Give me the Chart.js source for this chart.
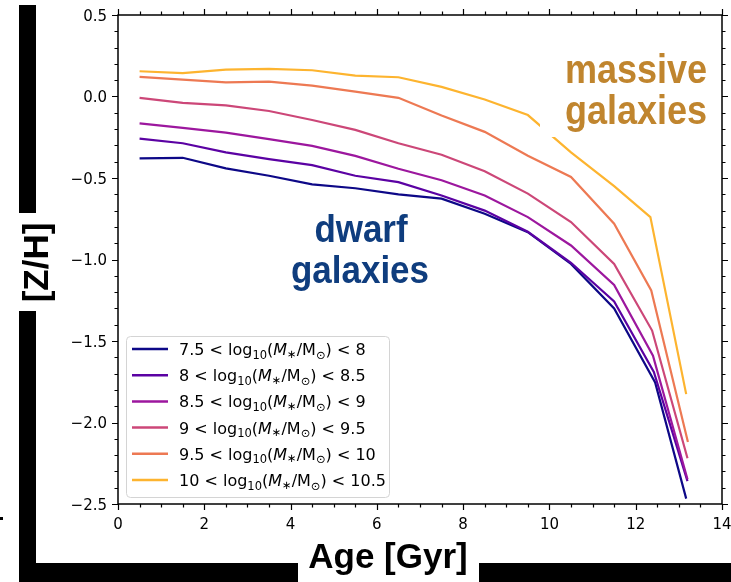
<!DOCTYPE html>
<html>
<head>
<meta charset="utf-8">
<script src="https://cdn.jsdelivr.net/npm/chart.js@4/dist/chart.umd.min.js"></script>
<style>
  body { margin: 0; background: #fff; }
  canvas { display: block; }
</style>
</head>
<body>
<canvas id="zhChart" width="731" height="582"></canvas>
<script>
/* ================= DATA ================= */
// age bins (Gyr) shared by every mass bin, the two oldest bins differ a little per series
const ages = [0.5, 1.5, 2.5, 3.5, 4.5, 5.5, 6.5, 7.5, 8.5, 9.5, 10.5, 11.5];
const oldAges = [
    [12.45, 13.17],
    [12.42, 13.20],
    [12.40, 13.20],
    [12.38, 13.20],
    [12.36, 13.21],
    [12.34, 13.17]
];

// [Z/H] per mass bin, youngest -> oldest
const zh75 = [-0.380, -0.376, -0.441, -0.486, -0.539, -0.563, -0.600, -0.627, -0.719, -0.832, -1.027, -1.300, -1.754, -2.467];
const zh80 = [-0.258, -0.287, -0.343, -0.384, -0.421, -0.486, -0.525, -0.607, -0.700, -0.830, -1.020, -1.258, -1.690, -2.360];
const zh85 = [-0.165, -0.193, -0.222, -0.262, -0.303, -0.364, -0.443, -0.514, -0.607, -0.740, -0.914, -1.156, -1.590, -2.348];
const zh90 = [-0.008, -0.039, -0.055, -0.089, -0.144, -0.205, -0.287, -0.357, -0.459, -0.596, -0.770, -1.027, -1.436, -2.219];
const zh95 = [0.120, 0.104, 0.087, 0.091, 0.067, 0.030, -0.008, -0.116, -0.217, -0.364, -0.494, -0.780, -1.190, -2.120];
const zh100 = [0.155, 0.144, 0.165, 0.169, 0.161, 0.128, 0.118, 0.059, -0.018, -0.114, -0.343, -0.550, -0.740, -1.826];

const binLo = ["7.5", "8", "8.5", "9", "9.5", "10"];
const binHi = ["8", "8.5", "9", "9.5", "10", "10.5"];
const colors = ["#0d0887", "#5b02a3", "#9c179e", "#cc4778", "#ed7953", "#fdb42f"];

const xTicks = [0, 2, 4, 6, 8, 10, 12, 14];
const yTicks = [0.5, 0.0, -0.5, -1.0, -1.5, -2.0, -2.5];
const xMinorStep = 0.5;
const yMinorStep = 0.1;

const allZh = [zh75, zh80, zh85, zh90, zh95, zh100];

/* ================= DATASETS ================= */
const datasets = allZh.map((zh, i) => {
    const xs = ages.concat(oldAges[i]);
    return {
        label: binLo[i] + " < log10(M*/Msun) < " + binHi[i],
        data: zh.map((v, j) => ({ x: xs[j], y: v })),
        borderColor: colors[i],
        borderWidth: 2.2,
        pointRadius: 0,
        tension: 0,
        fill: false,
        order: allZh.length - i   // heaviest bin drawn last
    };
});

const TICK_FONT = "15px 'DejaVu Sans'";
const LEG_FONT = "16px 'DejaVu Sans'";
const SUB_FONT = "11.5px 'DejaVu Sans'";

function minus(v) {
    return v.toFixed(1).replace("-", "\u2212");
}

/* legend label with log subscript + sun symbol */
function drawLegendLabel(ctx, x, y, lo, hi) {
    const parts = [
        [lo + " < log", LEG_FONT, 0],
        ["10", SUB_FONT, 3.5],
        ["(", LEG_FONT, 0],
        ["M", "oblique 16px 'DejaVu Sans'", 0],
        ["\u2217", SUB_FONT, 2.5],
        ["/M", LEG_FONT, 0],
        ["\u2299", SUB_FONT, 3.5],
        [") < " + hi, LEG_FONT, 0]
    ];
    parts.forEach(p => {
        ctx.font = p[1];
        ctx.fillText(p[0], x, y + p[2]);
        x += ctx.measureText(p[0]).width;
    });
}

// stretched bold caption
function caption(ctx, text, cx, y, size, sx, color) {
    ctx.save();
    ctx.font = "bold " + size + "px 'Liberation Sans'";
    ctx.fillStyle = color;
    ctx.textAlign = "center";
    ctx.translate(cx, y);
    ctx.scale(sx, 1);
    ctx.fillText(text, 0, 0);
    ctx.restore();
}

const framePlugin = {
    id: "frame",
    afterDatasetsDraw(chart) {
        const ctx = chart.ctx;
        const xs = chart.scales.x, ys = chart.scales.y;
        const a = chart.chartArea;

        ctx.save();

        // white text box behind the massive-galaxies caption
        ctx.fillStyle = "#fff";
        ctx.fillRect(540, 48, 172, 89);

        caption(ctx, "massive", 636, 83, 40, 0.9, "#c0852e");
        caption(ctx, "galaxies", 636, 124, 40, 0.9, "#c0852e");
        caption(ctx, "dwarf", 361, 242, 38, 0.92, "#0f3d7e");
        caption(ctx, "galaxies", 360, 283, 38, 0.92, "#0f3d7e");

        // spines
        ctx.strokeStyle = "#000";
        ctx.lineWidth = 1.5;
        ctx.strokeRect(a.left, a.top, a.right - a.left, a.bottom - a.top);

        // ticks on all four sides, pointing out
        ctx.lineWidth = 1.2;
        ctx.beginPath();
        for (let k = 0; k <= 28; k++) {
            const px = Math.round(xs.getPixelForValue(k * xMinorStep)) + 0.5;
            const len = k % 4 === 0 ? 6 : 3.5;
            ctx.moveTo(px, a.bottom); ctx.lineTo(px, a.bottom + len);
            ctx.moveTo(px, a.top); ctx.lineTo(px, a.top - len);
        }
        for (let k = 0; k <= 30; k++) {
            const py = Math.round(ys.getPixelForValue(-2.5 + k * yMinorStep)) + 0.5;
            const len = k % 5 === 0 ? 6 : 3.5;
            ctx.moveTo(a.left, py); ctx.lineTo(a.left - len, py);
            ctx.moveTo(a.right, py); ctx.lineTo(a.right + len, py);
        }
        ctx.stroke();

        // tick labels
        ctx.fillStyle = "#000";
        ctx.font = TICK_FONT;
        ctx.textAlign = "center";
        xTicks.forEach(v => ctx.fillText(String(v), xs.getPixelForValue(v), 529));
        ctx.textAlign = "right";
        yTicks.forEach(v => ctx.fillText(minus(v), 107, ys.getPixelForValue(v) + 5.5));

        // legend
        ctx.beginPath();
        ctx.roundRect(126.5, 336.5, 263, 161, 4);
        ctx.fillStyle = "#fff";
        ctx.fill();
        ctx.strokeStyle = "#d4d4d4";
        ctx.lineWidth = 1;
        ctx.stroke();
        ctx.textAlign = "left";
        binLo.forEach((lo, i) => {
            const ry = 349 + i * 26.2;
            ctx.strokeStyle = colors[i];
            ctx.lineWidth = 2.5;
            ctx.beginPath();
            ctx.moveTo(132, ry); ctx.lineTo(168, ry);
            ctx.stroke();
            ctx.fillStyle = "#000";
            drawLegendLabel(ctx, 179, ry + 6, lo, binHi[i]);
        });

        // heavy frame bars around the axis titles
        ctx.fillStyle = "#000";
        ctx.fillRect(19, 5, 17, 208);
        ctx.fillRect(19, 311, 17, 271);
        ctx.fillRect(19, 563, 279, 19);
        ctx.fillRect(479, 563, 252, 19);
        ctx.fillRect(0, 517, 3, 3);

        // axis titles
        ctx.font = "bold 35px 'Liberation Sans'";
        ctx.textAlign = "center";
        ctx.fillText("Age [Gyr]", 388, 568);
        ctx.translate(48, 262.5);
        ctx.rotate(-Math.PI / 2);
        ctx.fillText("[Z/H]", 0, 0);

        ctx.restore();
    }
};

/* ================= CHART ================= */
new Chart(document.getElementById("zhChart"), {
    type: "line",
    data: { datasets },
    options: {
        responsive: false,
        animation: false,
        layout: { padding: { left: 118, top: 15, right: 9, bottom: 78 } },
        scales: {
            x: { type: "linear", min: 0, max: 14, display: false },
            y: { type: "linear", min: -2.5, max: 0.5, display: false }
        },
        plugins: {
            legend: { display: false },
            tooltip: { enabled: false }
        }
    },
    plugins: [framePlugin]
});
</script>
</body>
</html>
